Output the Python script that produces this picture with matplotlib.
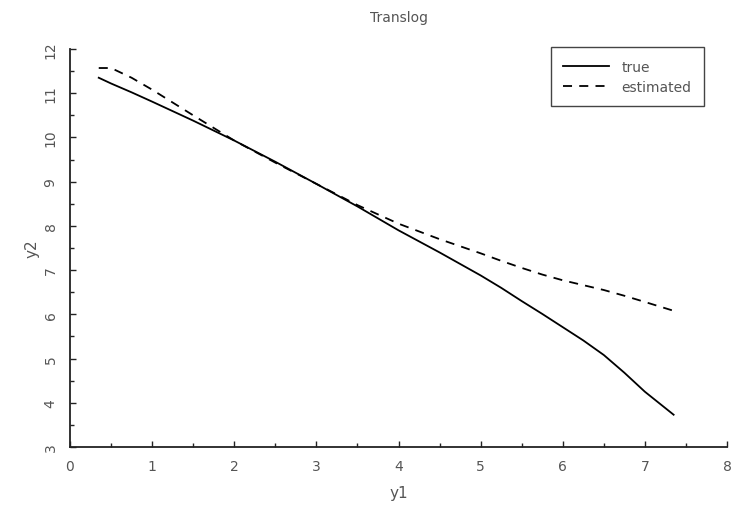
#!/usr/bin/env python3
# translog true vs estimated curve

import matplotlib
matplotlib.use("Agg")
import matplotlib.pyplot as plt
from matplotlib.ticker import MultipleLocator

# values
y1 = [0.35, 0.5, 0.75, 1.0, 1.5, 2.0, 2.5, 3.0, 3.5, 4.0, 4.5, 5.0, 5.25,
      5.5, 5.75, 6.0, 6.25, 6.5, 6.75, 7.0, 7.35]
y2_true = [11.35, 11.22, 11.02, 10.81, 10.38, 9.93, 9.45, 8.95, 8.44, 7.9,
           7.4, 6.88, 6.6, 6.3, 6.01, 5.71, 5.41, 5.08, 4.68, 4.25, 3.73]
y2_est = [11.57, 11.57, 11.35, 11.08, 10.5, 9.93, 9.43, 8.95, 8.47, 8.05,
          7.7, 7.38, 7.21, 7.05, 6.9, 6.77, 6.66, 6.55, 6.42, 6.28, 6.08]

GREY = "#555555"


def plot(ax):
    ax.plot(y1, y2_true, color="black", linewidth=1.3, label="true")
    ax.plot(y1, y2_est, color="black", linewidth=1.3, linestyle=(0, (5, 4)),
            label="estimated")

    ax.set_xlim(0, 8)
    ax.set_ylim(3, 12)
    ax.xaxis.set_major_locator(MultipleLocator(1))
    ax.xaxis.set_minor_locator(MultipleLocator(0.5))
    ax.yaxis.set_major_locator(MultipleLocator(1))
    ax.yaxis.set_minor_locator(MultipleLocator(0.5))

    for side in ("top", "right"):
        ax.spines[side].set_visible(False)
    for side in ("left", "bottom"):
        ax.spines[side].set_linewidth(1.3)
        ax.spines[side].set_color("#222222")

    ax.tick_params(which="both", direction="in", colors="#222222",
                   labelcolor=GREY, labelsize=10, width=1)
    ax.tick_params(which="major", length=4.5, pad=9)
    ax.tick_params(which="minor", length=3)
    for lab in ax.get_yticklabels():
        lab.set_rotation(90)
        lab.set_va("center")

    ax.set_title("Translog", color=GREY, fontsize=10, pad=20)
    ax.set_xlabel("y1", color=GREY, fontsize=11, labelpad=8)
    ax.set_ylabel("y2", color=GREY, fontsize=11, labelpad=3)

    leg = ax.legend(loc="upper right", bbox_to_anchor=(0.965, 1.005),
                    borderaxespad=0, fancybox=False, framealpha=1,
                    edgecolor="#444444", fontsize=10, handlelength=3.3,
                    borderpad=0.9, labelspacing=0.45, handletextpad=0.9)
    leg.get_frame().set_linewidth(1)
    for t in leg.get_texts():
        t.set_color(GREY)


def main():
    fig = plt.figure(figsize=(7.37, 5.06), dpi=100)
    ax = fig.add_axes([70 / 737, 1 - 448 / 506, 657 / 737, 398 / 506])
    plot(ax)
    fig.savefig("out.png", dpi=100)


if __name__ == "__main__":
    main()
